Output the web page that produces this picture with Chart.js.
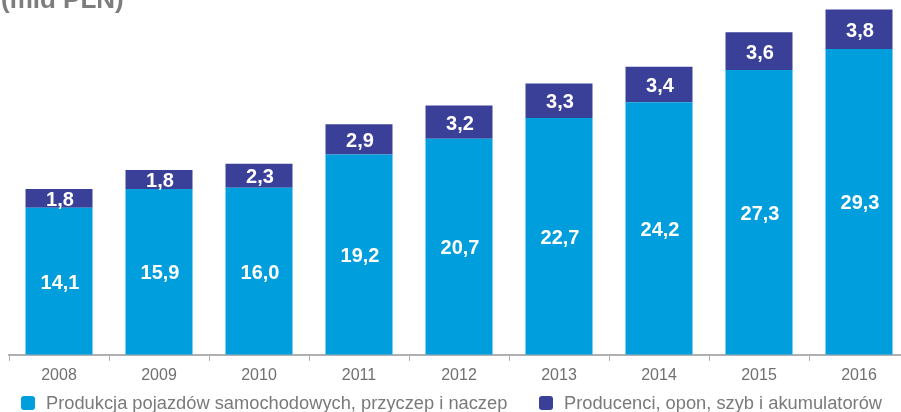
<!DOCTYPE html>
<html>
<head>
<meta charset="utf-8">
<script src="https://cdn.jsdelivr.net/npm/chart.js@4/dist/chart.umd.min.js"></script>
<style>
  html, body { margin: 0; padding: 0; background: #fff; overflow: hidden; }
  #wrap { width: 910px; height: 412px; position: relative; }
  .legend { position: absolute; top: 392px; font: 18.3px "Liberation Sans", Arial, sans-serif; color: #7a7a7a; white-space: nowrap; line-height: 22px; }
  .legend i { display: inline-block; width: 14px; height: 14px; border-radius: 3px; vertical-align: -1px; margin-right: 11px; }
</style>
</head>
<body>
<div id="wrap">
  <canvas id="chart"></canvas>
  <div class="legend" style="left:21px"><i style="background:#009edd"></i>Produkcja pojazdów samochodowych, przyczep i naczep</div>
  <div class="legend" style="left:539px"><i style="background:#3a3f98"></i>Producenci, opon, szyb i akumulatorów</div>
</div>
<script>
// years and values (mld PLN)
const years = ['2008', '2009', '2010', '2011', '2012', '2013', '2014', '2015', '2016'];
const produkcja = [14.1, 15.9, 16.0, 19.2, 20.7, 22.7, 24.2, 27.3, 29.3];
const producenci = [1.8, 1.8, 2.3, 2.9, 3.2, 3.3, 3.4, 3.6, 3.8];

const fmt = (v) => v.toFixed(1).replace('.', ',');

// white value labels in the middle of every segment
const segmentLabels = {
    id: 'segmentLabels',
    afterDatasetsDraw(chart) {
        const ctx = chart.ctx;
        ctx.save();
        ctx.fillStyle = '#fff';
        ctx.font = 'bold 20px "Liberation Sans", Arial, sans-serif';
        ctx.textAlign = 'center';
        ctx.textBaseline = 'middle';
        chart.data.datasets.forEach((ds, i) => {
            chart.getDatasetMeta(i).data.forEach((bar, j) => {
                const { x, y, base } = bar.getProps(['x', 'y', 'base'], true);
                ctx.fillText(fmt(ds.data[j]), x + 1, (y + base) / 2 + 2);
            });
        });
        ctx.restore();
    }
};

// unit caption in the top-left corner
const unitCaption = {
    id: 'unitCaption',
    afterDraw(chart) {
        const ctx = chart.ctx;
        ctx.save();
        ctx.fillStyle = '#7d7d7d';
        ctx.font = 'bold 26px "Liberation Sans", Arial, sans-serif';
        ctx.textBaseline = 'alphabetic';
        ctx.fillText('(mld PLN)', 1, 8);
        ctx.restore();
    }
};

new Chart(document.getElementById('chart'), {
    type: 'bar',
    data: {
        labels: years,
        datasets: [{
            label: 'Produkcja pojazdów samochodowych, przyczep i naczep',
            data: produkcja,
            backgroundColor: '#009edd',
            barPercentage: 0.67,
            categoryPercentage: 1
        }, {
            label: 'Producenci, opon, szyb i akumulatorów',
            data: producenci,
            backgroundColor: '#3a3f98',
            barPercentage: 0.67,
            categoryPercentage: 1
        }]
    },
    options: {
        responsive: true,
        maintainAspectRatio: false,
        animation: false,
        layout: { padding: { left: 9, right: 1, top: 0, bottom: 22 } },
        plugins: {
            tooltip: { enabled: false },
            legend: { display: false }
        },
        scales: {
            x: {
                stacked: true,
                grid: {
                    offset: true,
                    drawOnChartArea: false,
                    color: '#b0b0b0',
                    tickLength: 6
                },
                border: { color: '#b0b0b0', width: 2 },
                ticks: {
                    color: '#707070',
                    padding: 5,
                    font: { size: 16, family: '"Liberation Sans", Arial, sans-serif' }
                }
            },
            y: {
                stacked: true,
                display: false,
                min: 0,
                max: 34
            }
        }
    },
    plugins: [segmentLabels, unitCaption]
});
</script>
</body>
</html>
